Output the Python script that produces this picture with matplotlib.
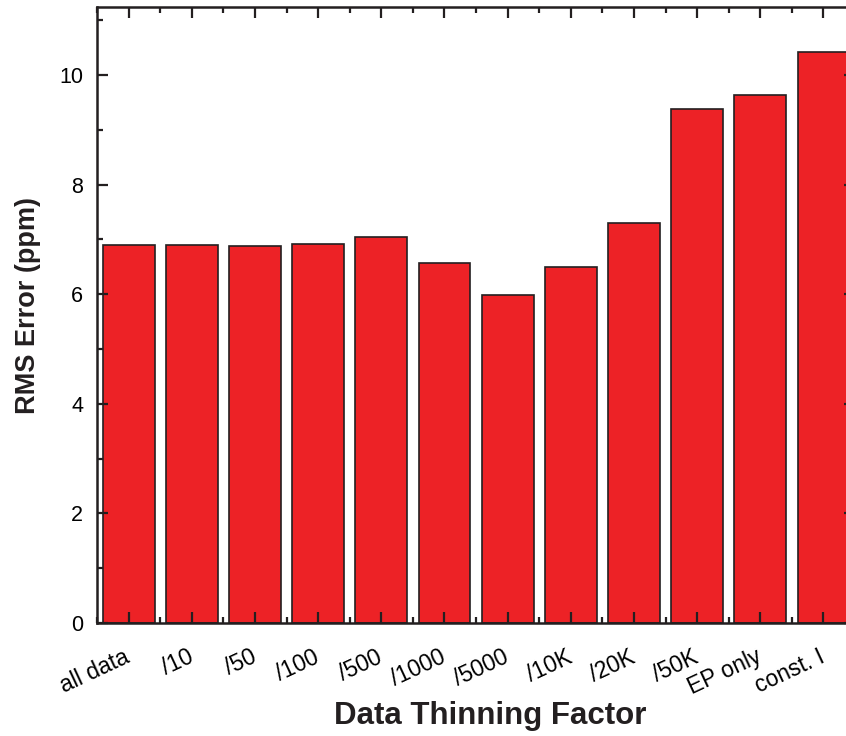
import numpy as np
import matplotlib
matplotlib.use('Agg')
import matplotlib.pyplot as plt
import matplotlib.transforms as mtransforms
from matplotlib.ticker import MultipleLocator

# data
labels = ['all data', '/10', '/50', '/100', '/500', '/1000', '/5000',
          '/10K', '/20K', '/50K', 'EP only', 'const. I']
rms_error = [6.89, 6.89, 6.87, 6.92, 7.05, 6.56, 5.99, 6.49, 7.29, 9.38, 9.63, 10.41]

plt.rcParams['font.family'] = ['Liberation Sans', 'DejaVu Sans']

fig = plt.figure(figsize=(8.46, 7.36), dpi=100)
# right edge of the axes runs past the figure, as in the cropped original
ax = fig.add_axes([0.1147, 0.1535, 0.896, 0.837])

x = np.arange(len(labels))
ax.bar(x, rms_error, width=0.82, color='#ED2226', edgecolor='#231F20', linewidth=1.2, zorder=1)

ax.set_xlim(-0.5, len(labels) - 0.5)
ax.set_ylim(0, 11.24)

ax.set_xticks(x)
ax.set_xticklabels(labels, rotation=25, ha='right', va='top', rotation_mode='anchor', fontsize=16.5)
ax.xaxis.set_minor_locator(MultipleLocator(0.5))
ax.yaxis.set_major_locator(MultipleLocator(2))
ax.yaxis.set_minor_locator(MultipleLocator(1))

ax.tick_params(which='both', direction='in', top=True, right=True, width=1.6,
               color='#231F20', zorder=3)
ax.tick_params(axis='y', labelsize=15.5, pad=10)
ax.tick_params(axis='x', pad=14)
ax.tick_params(which='major', length=8)
ax.tick_params(which='minor', length=4)

# nudge the rotated labels so their right end sits over the tick
shift = mtransforms.ScaledTranslation(-5 / 100, -3 / 100, fig.dpi_scale_trans)
for lab in ax.get_xticklabels():
    lab.set_transform(lab.get_transform() + shift)

for s in ax.spines.values():
    s.set_linewidth(1.8)
    s.set_color('#231F20')
    s.set_zorder(4)

ax.set_xlabel('Data Thinning Factor', fontsize=22.5, fontweight='bold', color='#231F20')
ax.set_ylabel('RMS Error (ppm)', fontsize=19.5, fontweight='bold', color='#231F20')
ax.xaxis.set_label_coords(0.518, -0.126)
ax.yaxis.set_label_coords(-0.074, 0.516)

fig.savefig('out.png', dpi=100)
